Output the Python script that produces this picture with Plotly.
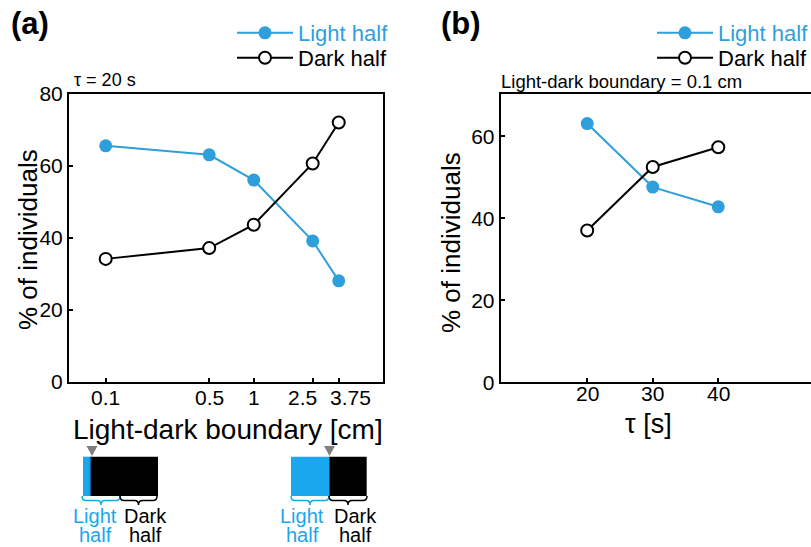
import math
import plotly.graph_objects as go

# ---------------- data ----------------
boundary_cm = [0.1, 0.5, 1, 2.5, 3.75]
boundary_labels = ["0.1", "0.5", "1", "2.5", "3.75"]
light_a = [65.6, 63.1, 56.1, 39.2, 28.1]
dark_a = [34.2, 37.2, 43.7, 60.7, 72.1]

tau_s = [20, 30, 40]
tau_labels = ["20", "30", "40"]
light_b = [63.1, 47.6, 42.8]
dark_b = [37.0, 52.5, 57.3]

BLUE = "#2F9FDB"
DIAG_BLUE = "#1AA7EE"
FONT = "Liberation Sans"
W, H = 811, 547


def px(x):
    return x / W


def py(y):
    return 1 - y / H


fig = go.Figure()

light_name = f"<span style='color:{BLUE}'>Light half</span>"


def add_pair(x, lt, dk, xa, ya, leg_l, leg_d):
    fig.add_trace(go.Scatter(
        x=x, y=lt, mode="lines+markers", name=light_name, xaxis=xa, yaxis=ya,
        legend=leg_l, line=dict(color=BLUE, width=2),
        marker=dict(color=BLUE, size=13, line=dict(width=0))))
    fig.add_trace(go.Scatter(
        x=x, y=dk, mode="lines+markers", name="Dark half", xaxis=xa, yaxis=ya,
        legend=leg_d, line=dict(color="black", width=2),
        marker=dict(color="white", size=12, line=dict(color="black", width=2))))


add_pair(boundary_cm, light_a, dark_a, "x", "y", "legend5", "legend2")
add_pair(tau_s, light_b, dark_b, "x2", "y2", "legend3", "legend4")

axis_common = dict(showgrid=False, zeroline=False, showline=True, linecolor="black",
                   linewidth=2, ticks="inside", ticklen=4, tickwidth=1.5, tickcolor="black",
                   tickangle=0, automargin=False,
                   tickfont=dict(family=FONT, size=21, color="black"))


def leg(x, ytop):
    return dict(x=px(x), y=py(ytop), xanchor="left", yanchor="top",
                font=dict(family=FONT, size=22, color="black"),
                bgcolor="rgba(0,0,0,0)", tracegroupgap=0, itemwidth=56)


fig.update_layout(
    width=W, height=H, margin=dict(l=0, r=0, t=0, b=0, autoexpand=False),
    paper_bgcolor="white", plot_bgcolor="white", showlegend=True,
    font=dict(family=FONT, color="black"),
    xaxis=dict(domain=[px(69), px(382.7)], type="log", range=[-1.248, 0.871],
               tickvals=boundary_cm, showticklabels=False, mirror=True,
               anchor="y", **axis_common),
    yaxis=dict(domain=[py(382), py(94)], range=[0, 80], tickvals=[0, 20, 40, 60, 80],
               mirror=True, anchor="x", **axis_common),
    xaxis2=dict(domain=[px(500.7), 1.0], range=[6.8, 54.15], tickvals=tau_s,
                showticklabels=False, mirror=True, anchor="y2", **axis_common),
    yaxis2=dict(domain=[py(382.3), py(94)], range=[0, 70.3], tickvals=[0, 20, 40, 60],
                anchor="x2", **axis_common),
    legend5=leg(232, 12),
    legend2=leg(232, 37),
    legend3=leg(652, 12),
    legend4=leg(652, 37),
)

ann = []


def text(x, y, s, size=20, color="black", bold=False, angle=0, xanchor="center"):
    if bold:
        s = f"<b>{s}</b>"
    ann.append(dict(x=px(x), y=py(y), xref="paper", yref="paper", text=s,
                    showarrow=False, xanchor=xanchor, yanchor="middle", textangle=angle,
                    font=dict(family=FONT, size=size, color=color)))


# x tick labels, placed through the axes (panel (a) nudged like the original)
label_shift = [0, 0, 0, -10, 12]
for v, lab, sh in zip(boundary_cm, boundary_labels, label_shift):
    ann.append(dict(x=math.log10(v), y=py(397), xref="x", yref="paper", text=lab,
                    showarrow=False, xanchor="center", yanchor="middle", xshift=sh,
                    font=dict(family=FONT, size=21, color="black")))
for v, lab in zip(tau_s, tau_labels):
    ann.append(dict(x=v, y=py(393), xref="x2", yref="paper", text=lab,
                    showarrow=False, xanchor="center", yanchor="middle",
                    font=dict(family=FONT, size=21, color="black")))

text(30, 24, "(a)", size=31, bold=True)
text(461, 24, "(b)", size=31, bold=True)
text(72, 80, "τ = 20 s", size=18, xanchor="left")
text(499, 81, "Light-dark boundary = 0.1 cm", size=18.5, xanchor="left")
text(28, 240, "% of individuals", size=26, angle=-90)
text(451, 242, "% of individuals", size=26, angle=-90)
text(228, 429, "Light-dark boundary [cm]", size=28)
text(648, 424, "τ [s]", size=27)

# diagram labels
for cx_l, cx_d in [(95, 145), (302, 355)]:
    text(cx_l, 516, "Light", size=20, color=DIAG_BLUE)
    text(cx_l, 535, "half", size=20, color=DIAG_BLUE)
    text(cx_d, 516, "Dark", size=20)
    text(cx_d, 535, "half", size=20)

fig.update_layout(annotations=ann)

shapes = []


def rect(x0, x1, y0, y1, color):
    shapes.append(dict(type="rect", xref="paper", yref="paper", x0=px(x0), x1=px(x1),
                       y0=py(y1), y1=py(y0), fillcolor=color, line=dict(width=0)))


def tri(xc, y0, y1, half=5.5):
    path = f"M{px(xc-half)},{py(y0)} L{px(xc+half)},{py(y0)} L{px(xc)},{py(y1)} Z"
    shapes.append(dict(type="path", xref="paper", yref="paper", path=path,
                       fillcolor="#7F7F7F", line=dict(width=0)))


def brace(x0, x1, y0, h, color):
    xm = (x0 + x1) / 2
    r = 4
    ym = y0 + h / 2
    pts = (f"M{px(x0)},{py(y0)} Q{px(x0)},{py(ym)} {px(x0+r)},{py(ym)} "
           f"L{px(xm-r)},{py(ym)} Q{px(xm)},{py(ym)} {px(xm)},{py(y0+h)} "
           f"Q{px(xm)},{py(ym)} {px(xm+r)},{py(ym)} "
           f"L{px(x1-r)},{py(ym)} Q{px(x1)},{py(ym)} {px(x1)},{py(y0)}")
    shapes.append(dict(type="path", xref="paper", yref="paper", path=pts,
                       line=dict(color=color, width=1.5)))


# left diagram
rect(83, 91, 456.7, 496, DIAG_BLUE)
rect(91, 158, 456.7, 496, "black")
shapes.append(dict(type="line", xref="paper", yref="paper", x0=px(90.5), x1=px(90.5),
                   y0=py(456.7), y1=py(496), line=dict(color="#1F5F8F", width=1.5)))
tri(92, 446, 456)
brace(82, 120, 496, 9, DIAG_BLUE)
brace(120, 157, 496, 9, "black")

# right diagram
rect(291, 329.3, 456.7, 496, DIAG_BLUE)
rect(329.3, 366.7, 456.7, 496, "black")
tri(329.5, 446, 456)
brace(291, 329, 496, 9, DIAG_BLUE)
brace(329, 367, 496, 9, "black")

fig.update_layout(shapes=shapes)

fig.write_html("out.html", config={"displayModeBar": False},
               post_script="document.body.style.margin='0';")
